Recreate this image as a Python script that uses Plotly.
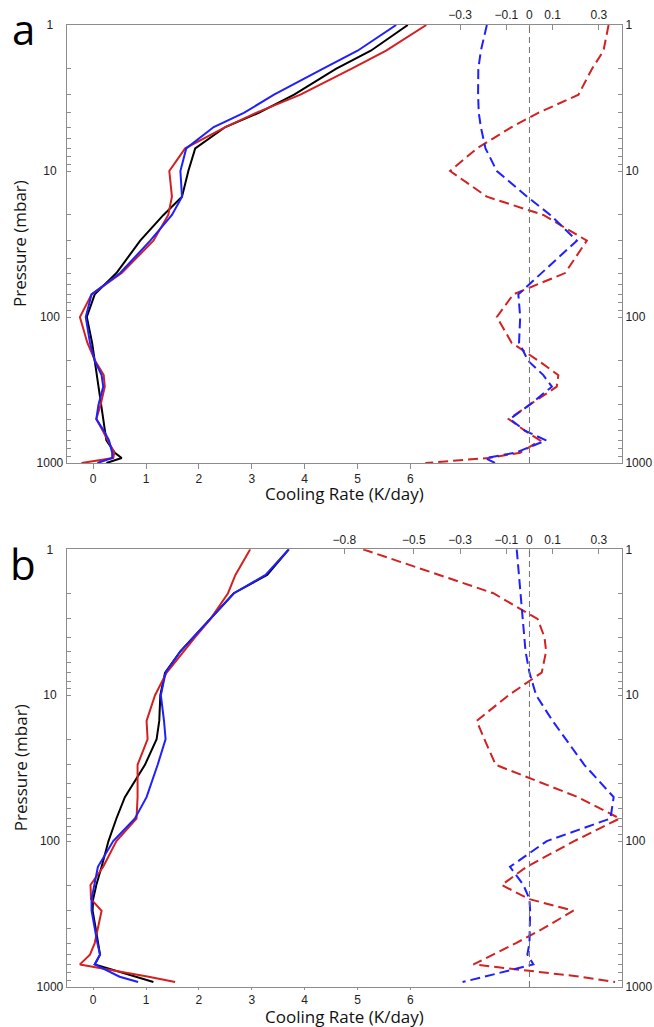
import plotly.graph_objects as go

# ---------------- data ----------------
# pressure levels (mbar)
p_a = [1, 1.5, 2, 3, 4, 5, 7, 10, 15, 20, 30, 50, 70, 100, 150, 200, 250, 300,
       400, 500, 600, 700, 850, 925, 1000]
p_b = [1, 1.5, 2, 3, 4, 5, 7, 10, 15, 20, 30, 50, 70, 100, 150, 200, 250, 300,
       400, 500, 600, 700, 850, 925]

# panel a cooling rates (K/day)
a_black = [5.95, 5.25, 4.59, 3.80, 3.13, 2.50, 1.93, 1.80, 1.68, 1.33, 0.89, 0.44,
           0.03, -0.12, -0.02, 0.03, 0.06, 0.09, 0.14, 0.18, 0.21, 0.25, 0.41, 0.54, 0.25]
a_red = [6.30, 5.54, 4.88, 3.92, 3.08, 2.50, 1.74, 1.44, 1.49, 1.42, 1.14, 0.54,
         -0.03, -0.25, -0.11, 0.04, 0.20, 0.22, 0.14, 0.06, 0.18, 0.28, 0.40, 0.38, -0.22]
a_blue = [5.73, 5.00, 4.34, 3.42, 2.85, 2.28, 1.76, 1.65, 1.68, 1.49, 1.08, 0.51,
          -0.03, -0.14, -0.06, 0.03, 0.16, 0.19, 0.10, 0.06, 0.20, 0.30, 0.36, 0.36, 0.08]
# panel a differences (K/day)
a_red_diff = [0.342, 0.32, 0.27, 0.212, 0.038, -0.077, -0.227, -0.343, -0.184, 0.06,
              0.248, 0.154, -0.07, -0.141, -0.077, 0.04, 0.125, 0.118, 0.0, -0.09,
              -0.02, 0.046, -0.04, -0.18, -0.45]
a_blue_diff = [-0.184, -0.21, -0.221, -0.222, -0.219, -0.21, -0.19, -0.141, -0.01, 0.09,
               0.205, 0.05, -0.048, -0.04, -0.045, -0.005, 0.06, 0.097, 0.0, -0.084,
               -0.02, 0.072, -0.06, -0.19, -0.149]

# panel b cooling rates (K/day)
b_black = [3.70, 3.29, 2.66, 2.22, 1.89, 1.65, 1.36, 1.27, 1.25, 1.20, 0.98, 0.60,
           0.44, 0.29, 0.16, 0.06, 0.00, -0.01, 0.05, 0.10, 0.13, 0.03, 0.80, 1.14]
b_red = [2.97, 2.69, 2.55, 2.22, 1.93, 1.71, 1.39, 1.17, 1.01, 1.03, 0.84, 0.84,
         0.82, 0.44, 0.19, -0.05, -0.04, 0.16, 0.09, 0.03, -0.06, -0.25, 1.05, 1.55]
b_blue = [3.70, 3.26, 2.66, 2.22, 1.90, 1.65, 1.37, 1.28, 1.34, 1.37, 1.22, 1.01,
          0.79, 0.38, 0.09, 0.03, -0.03, -0.03, 0.03, 0.08, 0.13, 0.03, 0.50, 0.85]
# panel b differences (K/day)
b_red_diff = [-0.719, -0.394, -0.156, 0.035, 0.065, 0.072, 0.053, -0.09, -0.228, -0.195,
              -0.146, 0.21, 0.39, 0.193, -0.012, -0.12, 0.0, 0.19, 0.056, -0.058,
              -0.157, -0.242, 0.22, 0.37]
b_blue_diff = [-0.055, -0.046, -0.04, -0.03, -0.023, -0.017, 0.0, 0.029, 0.10, 0.156,
               0.237, 0.364, 0.35, 0.075, -0.084, -0.026, 0.0, 0.003, 0.003, 0.0,
               -0.009, 0.017, -0.195, -0.289]

# axis ticks
p_major = [1, 10, 100, 1000]
p_major_left = ["1\u2007\u2008", "10\u2007", "100\u2008", "1000"]
p_major_right = ["1", "10", "100", "1000"]
p_minor = [2, 3, 4, 5, 6, 7, 8, 9, 20, 30, 40, 50, 60, 70, 80, 90,
           200, 300, 400, 500, 600, 700, 800, 900]
cr_ticks = [0, 1, 2, 3, 4, 5, 6]
diff_ticks_a = [-0.3, -0.1, 0, 0.1, 0.3]
diff_ticks_b = [-0.8, -0.5, -0.3, -0.1, 0, 0.1, 0.3]

# ---------------- styling ----------------
W, H = 654, 1027
LEFT, RIGHT = 66.7, 622.0
A_TOP, A_BOT = 25.0, 463.0
B_TOP, B_BOT = 549.3, 987.0
AXC = "#8c8c8c"
TXT = "#222222"
RED = "#d42020"
BLUE = "#1f1fff"
TICKFONT = dict(family="Liberation Sans, Arial, sans-serif", size=12, color=TXT)
TITLEFONT = dict(family="Open Sans, sans-serif", size=17, color="#111111")


def px(x):
    return x / W


def py(y):
    return 1 - y / H


fig = go.Figure()

panels = [
    dict(p=p_a, k=a_black, r=a_red, b=a_blue, rd=a_red_diff, bd=a_blue_diff,
         xb="x", xt="x2", yl="y", yr="y2"),
    dict(p=p_b, k=b_black, r=b_red, b=b_blue, rd=b_red_diff, bd=b_blue_diff,
         xb="x3", xt="x4", yl="y3", yr="y4"),
]

for pn in panels:
    for vals, col in [(pn["k"], "black"), (pn["r"], RED), (pn["b"], BLUE)]:
        fig.add_trace(go.Scatter(x=vals, y=pn["p"], mode="lines",
                                 line=dict(color=col, width=2),
                                 xaxis=pn["xb"], yaxis=pn["yl"],
                                 showlegend=False, hoverinfo="skip"))
    for vals, col in [(pn["rd"], RED), (pn["bd"], BLUE)]:
        fig.add_trace(go.Scatter(x=vals, y=pn["p"], mode="lines",
                                 line=dict(color=col, width=2, dash="10px,5px"),
                                 xaxis=pn["xt"], yaxis=pn["yl"],
                                 showlegend=False, hoverinfo="skip"))
    # invisible companion so the right-hand pressure axis is registered and labelled
    fig.add_trace(go.Scatter(x=pn["k"], y=pn["p"], mode="lines",
                             line=dict(color="rgba(0,0,0,0)", width=0),
                             xaxis=pn["xb"], yaxis=pn["yr"],
                             showlegend=False, hoverinfo="skip"))

xdom = [px(LEFT), px(RIGHT)]
ydom_a = [py(A_BOT), py(A_TOP)]
ydom_b = [py(B_BOT), py(B_TOP)]

common_x = dict(showgrid=False, zeroline=False, showline=True, linecolor=AXC,
                linewidth=1, tickfont=TICKFONT, tickcolor=AXC, domain=xdom,
                automargin=False)
all_p_ticks = p_major + p_minor
common_y = dict(type="log", range=[3, 0], showgrid=False, zeroline=False,
                showline=True, linecolor=AXC, linewidth=1, tickfont=TICKFONT,
                tickcolor=AXC, tickmode="array", tickvals=all_p_ticks,
                ticks="inside", ticklen=4, automargin=False)

layout = dict(
    width=W, height=H, margin=dict(l=0, r=0, t=0, b=0, pad=0),
    paper_bgcolor="white", plot_bgcolor="white", showlegend=False,
)

for idx, (xb, xt, yl, yr, ydom, dticks, blen) in enumerate([
        ("xaxis", "xaxis2", "yaxis", "yaxis2", ydom_a, diff_ticks_a, 5),
        ("xaxis3", "xaxis4", "yaxis3", "yaxis4", ydom_b, diff_ticks_b, 2)]):
    ylname = "y" if idx == 0 else "y3"
    xbname = "x" if idx == 0 else "x3"
    layout[xb] = dict(common_x, anchor=ylname, range=[-0.5, 10.0], side="bottom",
                      tickmode="array", tickvals=cr_ticks, ticks="outside", ticklen=blen)
    layout[xt] = dict(common_x, anchor=ylname, overlaying=xbname, side="top",
                      range=[-2.0, 0.4], tickmode="array", tickvals=dticks,
                      ticktext=[("\u2212" + f"{abs(v):g}") if v < 0 else f"{v:g}" for v in dticks],
                      ticks="inside", ticklen=5)
    layout[yl] = dict(common_y, domain=ydom, anchor=xbname, side="left",
                      ticktext=p_major_left + [""] * len(p_minor))
    layout[yr] = dict(common_y, domain=ydom, anchor=xbname, overlaying=ylname,
                      side="right", ticktext=p_major_right + [""] * len(p_minor))

fig.update_layout(**layout)

# zero reference lines for the difference axes
for xt, yl in [("x2", "y"), ("x4", "y3")]:
    fig.add_shape(type="line", xref=xt, yref=yl + " domain", x0=0, x1=0, y0=0, y1=1,
                  line=dict(color="#707070", width=1, dash="6px,4px"))

ann = []
for top, bot, lab, off, toff in [(A_TOP, A_BOT, "a", 4, 30), (B_TOP, B_BOT, "b", 14, 29.5)]:
    ann.append(dict(text=lab, x=px(23), y=py(top + off), xref="paper", yref="paper",
                    xanchor="center", yanchor="middle", showarrow=False,
                    font=dict(family="Open Sans, sans-serif", size=42, color="black")))
    ann.append(dict(text="Cooling Rate (K/day)", x=px((LEFT + RIGHT) / 2),
                    y=py(bot + toff), xref="paper", yref="paper", xanchor="center",
                    yanchor="middle", showarrow=False, font=TITLEFONT))
    ann.append(dict(text="Pressure (mbar)", x=px(20), y=py((top + bot) / 2),
                    xref="paper", yref="paper", xanchor="center", yanchor="middle",
                    textangle=-90, showarrow=False, font=TITLEFONT))
fig.update_layout(annotations=ann)

fig.write_html("out.html", config={"displayModeBar": False},
               post_script="document.body.style.margin='0';document.body.style.overflow='hidden';")
